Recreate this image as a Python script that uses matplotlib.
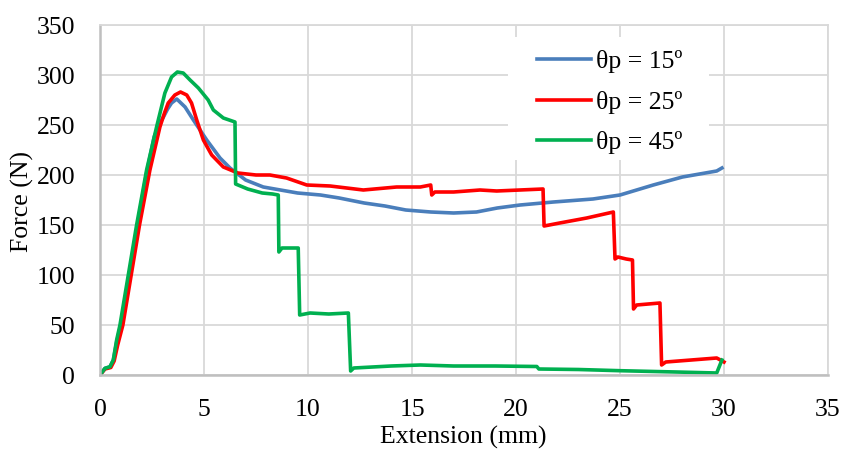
import matplotlib
matplotlib.use("Agg")
import matplotlib.pyplot as plt
from matplotlib.patches import Rectangle

# values
x15 = [0, 0.24, 0.48, 0.64, 0.8, 1.0, 1.4, 1.8, 2.22, 2.6, 2.85, 3.05, 3.25, 3.44, 3.69, 4.09, 4.49, 5.13,
       5.77, 6.25, 7.0, 7.85, 8.4, 9.5, 10.6, 11.5, 12.7, 13.7, 14.7, 15.9, 17.0, 18.1, 19.1, 20.2, 21.8,
       23.7, 25.0, 26.6, 28.0, 29.65, 29.9]
y15 = [0, 6.7, 8, 15, 33, 50, 100, 150, 200, 238, 251, 258, 266, 272, 276, 268, 255, 235,
       217, 207, 195, 188, 186, 182, 180, 177, 172, 169, 165, 163, 162, 163, 167, 170, 173,
       176, 180, 190, 198, 204, 207]

x25 = [0, 0.24, 0.52, 0.68, 0.85, 1.1, 1.5, 1.9, 2.4, 2.88, 3.1, 3.28, 3.6, 3.87, 4.17, 4.4, 4.65, 4.97,
       5.37, 5.93, 6.63, 7.5, 8.17, 8.97, 9.94, 11.06, 12.66, 14.26, 15.4, 15.9, 15.95, 16.1, 17.0, 18.27,
       19.07, 21.3, 21.35, 22.1, 23.4, 24.68, 24.76, 24.9, 25.3, 25.6, 25.65, 25.8, 26.92, 27.0, 27.2,
       29.65, 30.0]
y25 = [0, 6, 7.5, 14, 30, 50, 100, 150, 205, 248, 262, 272, 280, 283, 280, 272, 255, 235,
       220, 208, 202, 200, 200, 197, 190, 189, 185, 188, 188, 190, 180, 183, 183, 185,
       184, 186, 149, 152, 157, 163, 116, 118, 116, 115, 66, 70, 72, 10, 13,
       17, 13]

x45 = [0, 0.24, 0.48, 0.64, 0.8, 0.96, 1.36, 1.76, 2.24, 2.72, 3.12, 3.44, 3.72, 4.0, 4.33, 4.73, 5.2,
       5.45, 5.93, 6.49, 6.52, 7.1, 7.8, 8.3, 8.57, 8.6, 8.75, 9.53, 9.6, 10.1, 11.0, 11.94, 12.05,
       12.2, 14.0, 15.4, 17.0, 19.0, 21.0, 21.1, 23.0, 25.0, 27.7, 29.65, 29.9]
y45 = [0, 6.7, 8.3, 15, 35, 50, 100, 150, 205, 248, 282, 298, 303, 302, 295, 287, 275,
       265, 257, 253, 191, 186, 182, 181, 180, 123, 127, 127, 60, 62, 61, 62, 4,
       7, 9, 10, 9, 9, 8.5, 6, 5.5, 4.3, 3, 2, 15]

labels = ["θp = 15º", "θp = 25º", "θp = 45º"]
colors = ["#4A7EBB", "#FF0000", "#00B050"]

plt.rcParams["font.family"] = ["Liberation Serif", "DejaVu Serif"]

fig = plt.figure(figsize=(8.42, 4.5), dpi=100)
ax = fig.add_axes([100 / 842, 75 / 450, 728 / 842, 350 / 450])

ax.plot(x15, y15, color=colors[0], lw=2.6, label=labels[0])
ax.plot(x25, y25, color=colors[1], lw=2.6, label=labels[1])
ax.plot(x45, y45, color=colors[2], lw=2.6, label=labels[2])

ax.set_xlim(0, 35)
ax.set_ylim(0, 350)
ax.set_xticks(range(0, 36, 5))
ax.set_yticks(range(0, 351, 50))
ax.grid(True, color="#D9D9D9", lw=1.3)
ax.set_axisbelow(True)
for s in ["top", "right"]:
    ax.spines[s].set_color("#D9D9D9")
    ax.spines[s].set_linewidth(1.3)
for s in ["left", "bottom"]:
    ax.spines[s].set_color("#BFBFBF")
    ax.spines[s].set_linewidth(1.8)
ax.tick_params(axis="both", length=0, labelsize=18.5)
ax.tick_params(axis="x", pad=17)
ax.tick_params(axis="y", pad=18)

ax.set_xlabel("Extension (mm)", fontsize=18.5)
ax.set_ylabel("Force (N)", fontsize=18.5)
ax.xaxis.set_label_coords(0.4986, -0.146)
ax.yaxis.set_label_coords(-0.09, 0.497)

# white legend box hiding the grid behind it
ax.add_patch(Rectangle((0.56, 0.614), 0.277, 0.352, transform=ax.transAxes,
                       facecolor="white", edgecolor="none", zorder=1))
leg = ax.legend(loc="upper left", bbox_to_anchor=(0.60, 0.929), fontsize=18.5, frameon=False,
                handlelength=2.1, handletextpad=0.2, labelspacing=0.69, borderpad=0, borderaxespad=0)

plt.savefig("out.png", dpi=100)
